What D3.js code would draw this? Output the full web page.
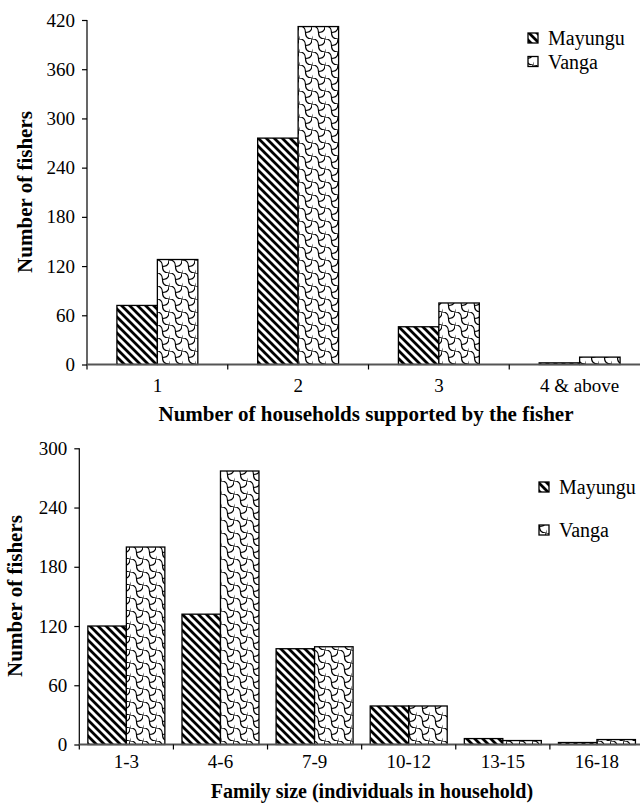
<!DOCTYPE html>
<html>
<head>
<meta charset="utf-8">
<script src="https://cdn.jsdelivr.net/npm/d3@7"></script>
<style>
  html, body { margin: 0; padding: 0; background: #fff; }
  svg { display: block; }
  svg text { font-family: "Liberation Serif", "Times New Roman", Times, "Nimbus Roman", "Tinos", "FreeSerif", "Noto Serif", "DejaVu Serif", serif; fill: #000; }
</style>
</head>
<body>
<svg id="chart" width="640" height="803"></svg>
<script>
// ---------- data ----------
const series = ["Mayungu", "Vanga"];

const householdCats = ["1", "2", "3", "4 & above"];
const householdMayungu = [72, 276, 46, 2];
const householdVanga = [128, 412, 75, 9];
const householdTicks = [0, 60, 120, 180, 240, 300, 360, 420];

const familyCats = ["1-3", "4-6", "7-9", "10-12", "13-15", "16-18"];
const familyMayungu = [120, 132, 97, 39, 6, 2];
const familyVanga = [200, 277, 99, 39, 4, 5];
const familyTicks = [0, 60, 120, 180, 240, 300];

// ---------- svg & patterns ----------
const FONT = "Liberation Serif, Times New Roman, Times, Nimbus Roman, Tinos, FreeSerif, Noto Serif, DejaVu Serif, serif";
const svg = d3.select("#chart");
const defs = svg.append("defs");

const pStripe = defs.append("pattern")
  .attr("id", "stripe").attr("patternUnits", "userSpaceOnUse")
  .attr("width", 8).attr("height", 8);
pStripe.append("rect").attr("width", 8).attr("height", 8).attr("fill", "#fff");
pStripe.append("path")
  .attr("d", "M-2,6 L2,10 M0,0 L8,8 M6,-2 L10,2")
  .attr("stroke", "#000").attr("stroke-width", 2.8);

const pScale = defs.append("pattern")
  .attr("id", "scale").attr("patternUnits", "userSpaceOnUse")
  .attr("width", 13).attr("height", 13);
pScale.append("rect").attr("width", 13).attr("height", 13).attr("fill", "#fff");
pScale.append("path")
  .attr("d", "M0,0 Q6.5,0 6.5,6.5 Q6.5,13 13,13 M6.5,6.5 Q13,6.5 13,0 M0,13 Q0,6.5 -6.5,6.5")
  .attr("fill", "none").attr("stroke", "#000").attr("stroke-width", 1.2);

const fills = { Mayungu: "url(#stripe)", Vanga: "url(#scale)" };

function drawChart(cfg) {
  const g = svg.append("g").attr("font-family", FONT);
  const x0 = d3.scaleBand().domain(cfg.cats).range(cfg.xRange).padding(0);
  const bw = x0.bandwidth();
  const x1 = d3.scaleBand().domain(series).range([bw * cfg.inset, bw * (1 - cfg.inset)]).padding(0);
  const y = d3.scaleLinear().domain([0, cfg.max]).range(cfg.yRange);

  const rows = cfg.cats.map((c, i) => ({ cat: c, Mayungu: cfg.m[i], Vanga: cfg.v[i] }));

  // bars
  rows.forEach(r => {
    series.forEach(s => {
      g.append("rect")
        .attr("x", x0(r.cat) + x1(s))
        .attr("y", y(r[s]))
        .attr("width", x1.bandwidth())
        .attr("height", y(0) - y(r[s]))
        .attr("fill", fills[s])
        .attr("stroke", "#000").attr("stroke-width", 1.3);
    });
  });

  // y axis
  const yAxis = d3.axisLeft(y).tickValues(cfg.ticks).tickSize(5).tickPadding(7).tickSizeOuter(0);
  const ya = g.append("g").attr("transform", `translate(${cfg.xRange[0]},0)`).call(yAxis)
    .attr("font-family", FONT).attr("font-size", 19);
  ya.select(".domain").attr("stroke", "#000").attr("stroke-width", 1.2)
    .attr("d", `M0,${cfg.yRange[1]}V${cfg.yRange[0] + 5}`);
  ya.selectAll(".tick line").attr("stroke", "#000").attr("stroke-width", 1.2);

  // x axis (category labels) and boundary ticks
  const xAxis = d3.axisBottom(x0).tickSize(0).tickPadding(cfg.xPad);
  const xa = g.append("g").attr("transform", `translate(0,${y(0)})`).call(xAxis)
    .attr("font-family", FONT).attr("font-size", 19);
  xa.select(".domain").remove();
  g.append("line")
    .attr("x1", cfg.xRange[0]).attr("x2", 640)
    .attr("y1", y(0)).attr("y2", y(0))
    .attr("stroke", "#555").attr("stroke-width", 1.8);
  g.selectAll(".bnd").data(cfg.cats.slice(1)).enter().append("line")
    .attr("x1", d => x0(d)).attr("x2", d => x0(d))
    .attr("y1", y(0)).attr("y2", y(0) + 5)
    .attr("stroke", "#000").attr("stroke-width", 1.2);

  // axis titles
  g.append("text")
    .attr("x", cfg.xTitlePos[0]).attr("y", cfg.xTitlePos[1])
    .attr("text-anchor", "middle")
    .attr("font-size", cfg.xTitleSize).attr("font-weight", "bold")
    .text(cfg.xTitle);
  g.append("text")
    .attr("transform", `translate(${cfg.yTitlePos[0]},${cfg.yTitlePos[1]}) rotate(-90)`)
    .attr("text-anchor", "middle")
    .attr("font-size", 21).attr("font-weight", "bold")
    .text("Number of fishers");

  // legend
  series.forEach((s, i) => {
    const ly = cfg.legend[1] + i * cfg.legendGap;
    g.append("rect")
      .attr("x", cfg.legend[0]).attr("y", ly - 5)
      .attr("width", 10).attr("height", 10)
      .attr("fill", fills[s]).attr("stroke", "#000").attr("stroke-width", 1.3);
    g.append("text")
      .attr("x", cfg.legend[0] + 20).attr("y", ly)
      .attr("dy", "0.35em")
      .attr("font-size", 20)
      .text(s);
  });
}

drawChart({
  cats: householdCats, m: householdMayungu, v: householdVanga, ticks: householdTicks,
  max: 420, xRange: [87, 650], yRange: [364.5, 20], inset: 0.2125, xPad: 14,
  xTitle: "Number of households supported by the fisher", xTitleSize: 21,
  xTitlePos: [366, 421], yTitlePos: [32, 192],
  legend: [528, 38], legendGap: 23.5
});

drawChart({
  cats: familyCats, m: familyMayungu, v: familyVanga, ticks: familyTicks,
  max: 300, xRange: [79.3, 644], yRange: [744.5, 448.3], inset: 0.091, xPad: 10,
  xTitle: "Family size (individuals in household)", xTitleSize: 20,
  xTitlePos: [372, 798], yTitlePos: [22, 596],
  legend: [539, 487], legendGap: 43
});
</script>
</body>
</html>
